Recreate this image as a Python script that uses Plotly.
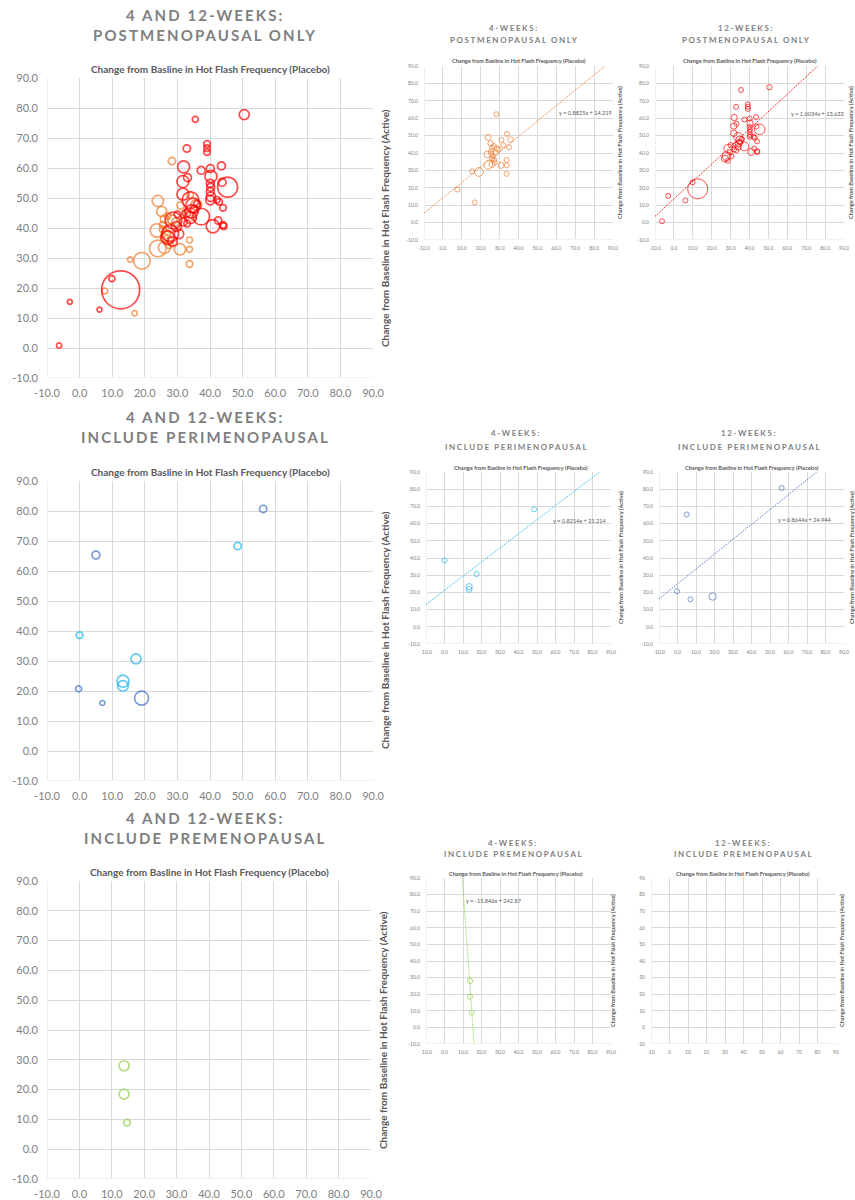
import math
import plotly.graph_objects as go

W, H = 855, 1200
FONT = "Lato"

# ---------------- data ----------------
# Postmenopausal only, 4 weeks (placebo change, active change, participants)
post_4wk_x = [28.3, 15.5, 19.1, 7.7, 16.9, 24.0, 25.2, 26.0, 25.5, 23.7, 24.0, 26.0, 30.8, 33.7, 33.7,
              33.7, 33.9, 35.8, 35.0, 32.0, 27.0, 26.5, 28.0, 28.5, 27.5, 26.0, 25.5, 29.5, 27.0, 31.0]
post_4wk_y = [62.3, 29.5, 29.1, 19.0, 11.6, 49.0, 45.5, 43.0, 41.0, 39.2, 33.2, 33.5, 32.9, 36.0, 32.9,
              28.0, 51.0, 47.7, 43.3, 44.5, 36.0, 38.0, 40.0, 42.8, 34.5, 36.8, 39.5, 42.0, 44.0, 47.5]
post_4wk_n = [34, 18, 178, 23, 18, 82, 64, 41, 28, 114, 178, 92, 82, 23, 23,
              28, 28, 73, 18, 28, 64, 56, 56, 56, 41, 41, 28, 41, 28, 34]

# Postmenopausal only, 12 weeks
post_12wk_x = [-6.3, -3.0, 6.1, 9.9, 12.6, 35.5, 50.5, 32.9, 39.1, 39.1, 39.1, 31.9, 37.3, 40.1, 43.5,
               33.1, 31.7, 40.3, 40.1, 40.2, 40.1, 40.3, 43.7, 45.4, 31.7, 34.0, 34.8, 34.3, 34.0, 40.1,
               42.1, 42.8, 44.0, 37.3, 40.9, 42.5, 44.0, 44.2, 28.8, 27.8, 27.0, 29.7, 32.8, 31.8, 30.5,
               28.5, 35.2, 33.0, 30.0, 36.0]
post_12wk_y = [0.8, 15.4, 12.8, 23.1, 19.4, 76.2, 77.8, 66.5, 68.0, 66.6, 65.3, 60.4, 59.2, 59.8, 60.7,
               56.8, 55.5, 57.2, 54.9, 53.6, 52.1, 50.4, 55.2, 53.6, 51.3, 49.3, 47.5, 45.5, 43.5, 49.3,
               49.4, 48.7, 46.7, 43.8, 40.6, 42.5, 41.0, 40.6, 42.5, 38.2, 36.8, 40.5, 44.9, 42.0, 38.0,
               35.5, 46.2, 41.5, 44.5, 48.0]
post_12wk_n = [18, 5, 14, 23, 924, 23, 64, 34, 28, 28, 28, 92, 41, 41, 41,
               41, 92, 92, 41, 41, 41, 56, 41, 256, 92, 178, 138, 114, 92, 56,
               28, 28, 28, 178, 114, 34, 28, 28, 178, 178, 114, 64, 41, 41, 56,
               56, 41, 28, 28, 28]

# Including perimenopausal
peri_4wk_x = [48.5, 0.0, 17.3, 13.3, 13.3]
peri_4wk_y = [68.3, 38.6, 30.7, 23.3, 21.7]
peri_4wk_n = [34, 28, 64, 92, 73]

peri_12wk_x = [56.3, 5.0, -0.3, 7.0, 19.0]
peri_12wk_y = [80.7, 65.3, 20.7, 16.0, 17.6]
peri_12wk_n = [34, 41, 23, 14, 125]

# Including premenopausal
pre_4wk_x = [13.8, 13.8, 14.7]
pre_4wk_y = [28.0, 18.5, 8.9]
pre_4wk_n = [64, 64, 28]

pre_12wk_x = []
pre_12wk_y = []
pre_12wk_n = []

# Linear trendlines: (slope, intercept)
trend_post_4wk = (0.8825, 14.219)
trend_post_12wk = (1.0034, 13.633)
trend_peri_4wk = (0.8214, 21.214)
trend_peri_12wk = (0.8644, 24.944)
trend_pre_4wk = (-15.846, 242.87)

# Axis ticks
tick_values = [-10, 0, 10, 20, 30, 40, 50, 60, 70, 80, 90]
tick_labels_dec = ["-10.0", "0.0", "10.0", "20.0", "30.0", "40.0", "50.0", "60.0", "70.0", "80.0", "90.0"]
tick_labels_int = ["-10", "0", "10", "20", "30", "40", "50", "60", "70", "80", "90"]

X_TITLE = "Change from Basline in Hot Flash Frequency (Placebo)"
Y_TITLE = "Change from Baseline in Hot Flash Frequency (Active)"

# ---------------- styling ----------------
ORANGE = "#ED7D31"
RED = "#FF0000"
LIGHT_BLUE = "#1FB5F0"
BLUE = "#4472C4"
GREEN = "#92D050"
GRID = "#D9D9D9"
TITLE_GRAY = "#7F7F7F"
TEXT_GRAY = "#595959"
TICK_GRAY = "#808080"

LO, HI = -10, 90

# panel boxes in pixels: left, top, right, bottom of plotting area
panels = {
    "A": dict(box=(47, 78, 373, 378), big=True, ticks=tick_labels_dec),
    "B": dict(box=(424, 66, 613, 240), big=False, ticks=tick_labels_dec),
    "C": dict(box=(655, 66, 844, 240), big=False, ticks=tick_labels_dec),
    "D": dict(box=(47, 481, 373, 781), big=True, ticks=tick_labels_dec),
    "E": dict(box=(426, 472, 611, 644), big=False, ticks=tick_labels_dec),
    "F": dict(box=(659, 472, 844, 644), big=False, ticks=tick_labels_dec),
    "G": dict(box=(47, 881, 371, 1179), big=True, ticks=tick_labels_dec),
    "H": dict(box=(426, 878, 611, 1044), big=False, ticks=tick_labels_dec),
    "I": dict(box=(651, 878, 836, 1044), big=False, ticks=tick_labels_int),
}

fig = go.Figure()
axis_ids = {}

for i, (key, p) in enumerate(panels.items()):
    suffix = "" if i == 0 else str(i + 1)
    axis_ids[key] = ("x" + suffix, "y" + suffix)
    x0, y0, x1, y1 = p["box"]
    big = p["big"]
    tick_font = dict(family=FONT, size=11 if big else 5, color=TICK_GRAY)
    common = dict(range=[LO, HI], tickvals=tick_values, ticktext=p["ticks"], showgrid=True,
                  gridcolor=GRID, gridwidth=1, zeroline=False, showline=False, ticks="",
                  tickfont=tick_font, fixedrange=True, automargin=False)
    fig.layout["xaxis" + suffix] = dict(domain=[x0 / W, x1 / W], anchor="y" + suffix,
                                        ticklabelstandoff=7 if big else 4, **common)
    fig.layout["yaxis" + suffix] = dict(domain=[1 - y1 / H, 1 - y0 / H], anchor="x" + suffix,
                                        ticklabelstandoff=8 if big else 5, **common)
    # dotted axis lines along the left and bottom edges
    for (ax0, ay0, ax1, ay1) in [(LO, LO, LO, HI), (LO, LO, HI, LO)]:
        fig.add_shape(type="line", x0=ax0, y0=ay0, x1=ax1, y1=ay1, xref="x" + suffix, yref="y" + suffix,
                      line=dict(color="white", width=2), layer="between")
        fig.add_shape(type="line", x0=ax0, y0=ay0, x1=ax1, y1=ay1, xref="x" + suffix, yref="y" + suffix,
                      line=dict(color="#C8C8C8", width=1, dash="1px,1px"), layer="between")


def bubbles(key, xs, ys, ns, color):
    big = panels[key]["big"]
    k = 1.25 if big else 0.66
    xa, ya = axis_ids[key]
    fig.add_trace(go.Scatter(
        x=xs, y=ys, mode="markers", xaxis=xa, yaxis=ya, showlegend=False, hoverinfo="skip",
        marker=dict(symbol="circle", size=[k * math.sqrt(n) for n in ns], sizemin=2.5,
                    color="rgba(0,0,0,0)", line=dict(color=color, width=1.7 if big else 1.0))))


def trendline(key, coef, color):
    m, b = coef
    xa, ya = axis_ids[key]
    # clip the fitted line to the visible square
    cands = [LO, HI, (LO - b) / m, (HI - b) / m]
    pts = sorted({round(x, 6) for x in cands if LO <= x <= HI and LO - 1e-9 <= m * x + b <= HI + 1e-9})
    xe = [pts[0], pts[-1]]
    fig.add_trace(go.Scatter(x=xe, y=[m * x + b for x in xe], mode="lines", xaxis=xa, yaxis=ya,
                             showlegend=False, hoverinfo="skip",
                             line=dict(color=color, width=1, dash="1.2px,1.2px")))


# combined panels
bubbles("A", post_4wk_x, post_4wk_y, post_4wk_n, ORANGE)
bubbles("A", post_12wk_x, post_12wk_y, post_12wk_n, RED)
bubbles("D", peri_4wk_x, peri_4wk_y, peri_4wk_n, LIGHT_BLUE)
bubbles("D", peri_12wk_x, peri_12wk_y, peri_12wk_n, BLUE)
bubbles("G", pre_4wk_x, pre_4wk_y, pre_4wk_n, GREEN)

# single-timepoint panels with trendlines
trendline("B", trend_post_4wk, ORANGE)
bubbles("B", post_4wk_x, post_4wk_y, post_4wk_n, ORANGE)
trendline("C", trend_post_12wk, RED)
bubbles("C", post_12wk_x, post_12wk_y, post_12wk_n, RED)
trendline("E", trend_peri_4wk, LIGHT_BLUE)
bubbles("E", peri_4wk_x, peri_4wk_y, peri_4wk_n, LIGHT_BLUE)
trendline("F", trend_peri_12wk, BLUE)
bubbles("F", peri_12wk_x, peri_12wk_y, peri_12wk_n, BLUE)
trendline("H", trend_pre_4wk, GREEN)
bubbles("H", pre_4wk_x, pre_4wk_y, pre_4wk_n, GREEN)
bubbles("I", pre_12wk_x, pre_12wk_y, pre_12wk_n, GREEN)


def note(text, cx, cy, size, color, bold=False, angle=0, spacing=None):
    t = f"<b>{text}</b>" if bold else text
    if spacing:
        t = f'<span style="letter-spacing:{spacing}px">{t}</span>'
    fig.add_annotation(x=cx / W, y=1 - cy / H, xref="paper", yref="paper", text=t, showarrow=False,
                       xanchor="center", yanchor="middle", textangle=angle,
                       font=dict(family=FONT, size=size, color=color))


# section headings
headings = [
    ("4 AND 12-WEEKS:", "POSTMENOPAUSAL ONLY", 205, 15, 35, True),
    ("4-WEEKS:", "POSTMENOPAUSAL ONLY", 514, 28, 40, False),
    ("12-WEEKS:", "POSTMENOPAUSAL ONLY", 746, 28, 40, False),
    ("4 AND 12-WEEKS:", "INCLUDE PERIMENOPAUSAL", 205, 417, 437, True),
    ("4-WEEKS:", "INCLUDE PERIMENOPAUSAL", 516, 433, 447, False),
    ("12-WEEKS:", "INCLUDE PERIMENOPAUSAL", 749, 433, 447, False),
    ("4 AND 12-WEEKS:", "INCLUDE PREMENOPAUSAL", 205, 818, 838, True),
    ("4-WEEKS:", "INCLUDE PREMENOPAUSAL", 513, 843, 854, False),
    ("12-WEEKS:", "INCLUDE PREMENOPAUSAL", 743, 843, 854, False),
]
for l1, l2, cx, cy1, cy2, big in headings:
    note(l1, cx, cy1, 15 if big else 8, TITLE_GRAY, bold=True, spacing=2.1 if big else 1.6)
    note(l2, cx, cy2, 15 if big else 8, TITLE_GRAY, bold=True, spacing=2.1 if big else 1.6)

# axis titles: placebo across the top, active on the right
axis_title_pos = {
    "A": (210, 69, 385, 228),
    "B": (519, 61, 620, 153),
    "C": (750, 61, 851, 153),
    "D": (210, 472, 385, 630),
    "E": (521, 467, 620, 558),
    "F": (752, 467, 851, 558),
    "G": (209, 872, 383, 1030),
    "H": (516, 873, 612, 961),
    "I": (743, 873, 841, 961),
}
for key, (tx, ty, rx, ry) in axis_title_pos.items():
    big = panels[key]["big"]
    size = 10 if big else 5.6
    note(X_TITLE, tx, ty, size, TEXT_GRAY, bold=True)
    note(Y_TITLE, rx, ry, size, TEXT_GRAY, bold=True, angle=-90)

# trendline equations
equations = [
    (trend_post_4wk, 585, 113),
    (trend_post_12wk, 817, 114),
    (trend_peri_4wk, 580, 520),
    (trend_peri_12wk, 805, 519),
    (trend_pre_4wk, 494, 900),
]
for (m, b), cx, cy in equations:
    note(f"y = {m}x + {b}", cx, cy, 5.6, TEXT_GRAY)

fig.update_layout(width=W, height=H, autosize=False, margin=dict(l=0, r=0, t=0, b=0, pad=0),
                  paper_bgcolor="white", plot_bgcolor="white")

fig.write_html("out.html", config={"displayModeBar": False},
               post_script="document.body.style.margin='0';document.body.style.padding='0';")
